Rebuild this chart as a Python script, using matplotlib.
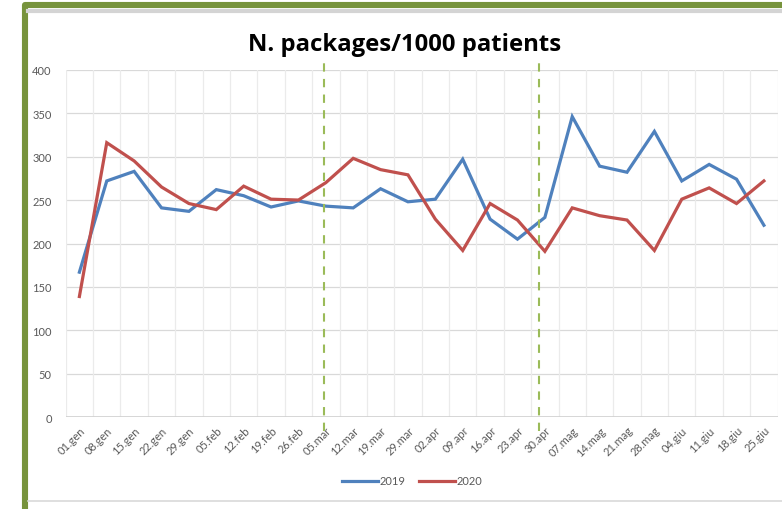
import matplotlib
matplotlib.use("Agg")
import matplotlib.pyplot as plt
from matplotlib.patches import Rectangle
from matplotlib.lines import Line2D

# weekly dates (x axis categories)
weeks = ['01.gen', '08.gen', '15.gen', '22.gen', '29.gen', '05.feb', '12.feb', '19.feb',
         '26.feb', '05.mar', '12.mar', '19.mar', '29.mar', '02.apr', '09.apr', '16.apr',
         '23.apr', '30.apr', '07.mag', '14.mag', '21.mag', '28.mag', '04.giu', '11.giu',
         '18.giu', '25.giu']
# packages per 1000 patients
y2019 = [167, 272, 283, 241, 237, 262, 255, 242, 249, 243, 241, 263, 248, 251, 297,
         228, 205, 230, 346, 289, 282, 329, 272, 291, 274, 221]
y2020 = [139, 316, 295, 265, 246, 239, 266, 251, 250, 270, 298, 285, 279, 228, 192,
         246, 227, 191, 241, 232, 227, 192, 251, 264, 246, 272]
# position of the two dashed markers (in category units)
markers = [8.93, 16.79]

W, H = 782, 510
plt.rcParams['font.family'] = ['Lato', 'DejaVu Sans']
fig = plt.figure(figsize=(W / 100, H / 100), dpi=100)
fig.patch.set_facecolor('white')

ax = fig.add_axes([65.7 / W, 1 - 418.3 / H, (777.6 - 65.7) / W, (418.3 - 70.7) / H])
x = list(range(len(weeks)))
ax.plot(x, y2019, color='#4F81BD', lw=2.3, solid_joinstyle='miter', label='2019', zorder=3)
ax.plot(x, y2020, color='#C0504D', lw=2.3, solid_joinstyle='miter', label='2020', zorder=3)

ax.set_xlim(-0.5, len(weeks) - 0.5)
ax.set_ylim(0, 400)
ax.set_yticks(range(0, 401, 50))
ax.set_xticks(x)
ax.set_xticklabels(weeks, rotation=45, ha='right', va='top', rotation_mode='anchor')
ax.tick_params(axis='both', length=0, labelsize=8, labelcolor='#595959')
ax.tick_params(axis='y', pad=10)
ax.tick_params(axis='x', pad=5)

# grid: horizontal at ticks, vertical between categories
for v in range(0, 401, 50):
    ax.axhline(v, color='#D9D9D9', lw=0.9, zorder=1)
for k in range(len(weeks) + 1):
    ax.axvline(k - 0.5, color='#EBEBEB', lw=0.9, zorder=1)
for s in ax.spines.values():
    s.set_visible(False)
ax.axhline(0, color='#D0D0D0', lw=1.2, zorder=2)

for m in markers:
    ax.axvline(m, ymin=-0.04, ymax=1.028, color='#9BBB59', lw=1.5, ls=(0, (4, 3.5)),
               clip_on=False, zorder=4)

fig.text(405 / W, 1 - 45 / H, 'N. packages/1000 patients', ha='center', va='center',
         fontsize=17.2, fontweight='bold', color='black', family=['Open Sans', 'DejaVu Sans'])

leg = ax.legend(loc='center', bbox_to_anchor=(412 / W, 1 - 482 / H),
                bbox_transform=fig.transFigure, ncol=2, frameon=False, fontsize=8,
                handlelength=3.3, handletextpad=0.1, columnspacing=1.2)
for t in leg.get_texts():
    t.set_color('#595959')

# frame of the slide box
fig.add_artist(Line2D([28 / W, 1], [1 - 11.5 / H, 1 - 11.5 / H], color='#D4D4D4', lw=3,
                      transform=fig.transFigure))
fig.add_artist(Line2D([28 / W, 1], [1 - 502 / H, 1 - 502 / H], color='#D9D9D9', lw=1.2,
                      transform=fig.transFigure))
fig.add_artist(Rectangle((25 / W, -0.2), 1.2, 1.2 - 6 / H + 0.0, fill=False,
                         edgecolor='#77933C', lw=4.4, joinstyle='round',
                         transform=fig.transFigure))

fig.savefig('out.png', dpi=100, facecolor='white')
